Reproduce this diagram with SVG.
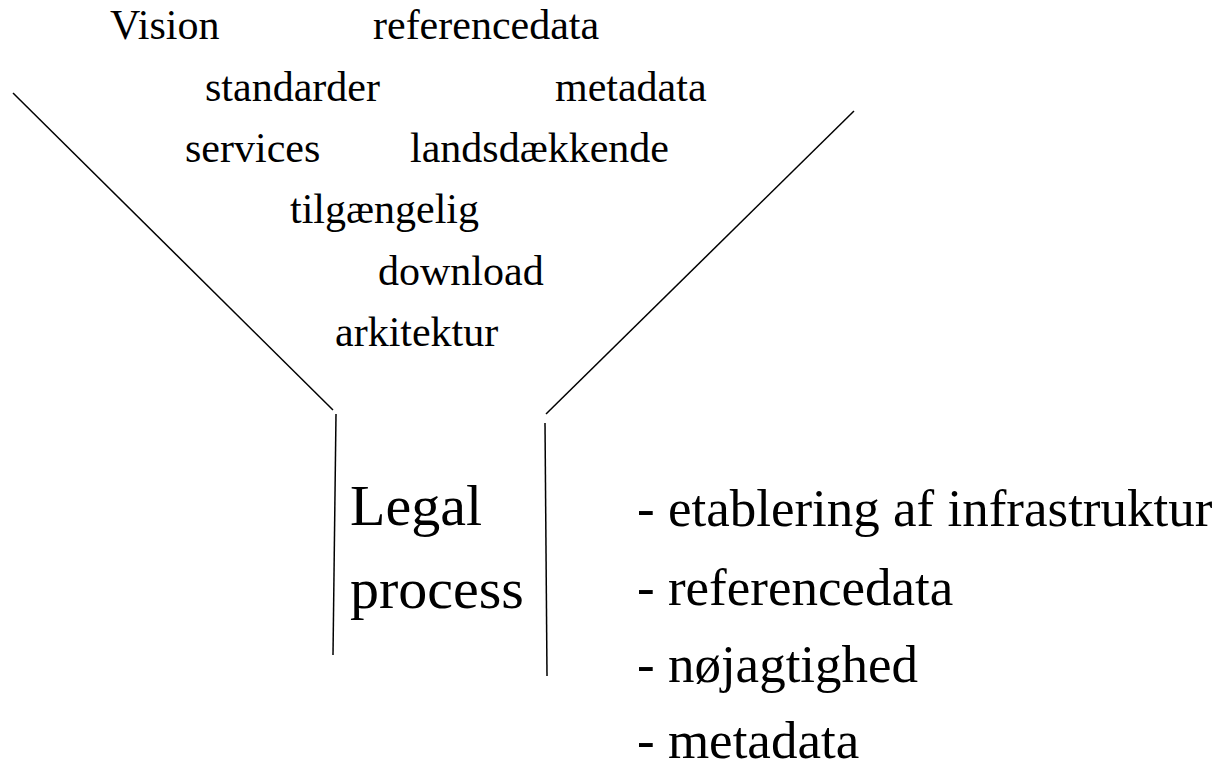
<svg xmlns="http://www.w3.org/2000/svg" width="1226" height="763" viewBox="0 0 1226 763">
<style>
text{font-family:"Liberation Serif","Times New Roman",serif;fill:#000}
.w{font-size:42px}
.big{font-size:58px}
.li{font-size:53px}
line{stroke:#000;stroke-width:1.5;fill:none}
</style>
<rect width="1226" height="763" fill="#fff"/>
<g id="connectors">
<line x1="13" y1="93" x2="333" y2="410"/>
<line x1="336" y1="414" x2="333" y2="655"/>
<line x1="854" y1="111" x2="546" y2="414"/>
<line x1="545" y1="423" x2="547" y2="676"/>
</g>
<g id="words">
<text class="w" x="110" y="39">Vision</text>
<text class="w" x="373" y="39">referencedata</text>
<text class="w" x="205" y="101">standarder</text>
<text class="w" x="555" y="101">metadata</text>
<text class="w" x="185" y="162">services</text>
<text class="w" x="410" y="162">landsdækkende</text>
<text class="w" x="290" y="223">tilgængelig</text>
<text class="w" x="378" y="285">download</text>
<text class="w" x="335" y="346">arkitektur</text>
</g>
<g id="legal">
<text class="big" x="350" y="525">Legal</text>
<text class="big" x="350" y="608">process</text>
</g>
<g id="list">
<text class="li" x="637" y="526">- etablering af infrastruktur</text>
<text class="li" x="637" y="605">- referencedata</text>
<text class="li" x="637" y="682">- nøjagtighed</text>
<text class="li" x="637" y="758">- metadata</text>
</g>
</svg>
